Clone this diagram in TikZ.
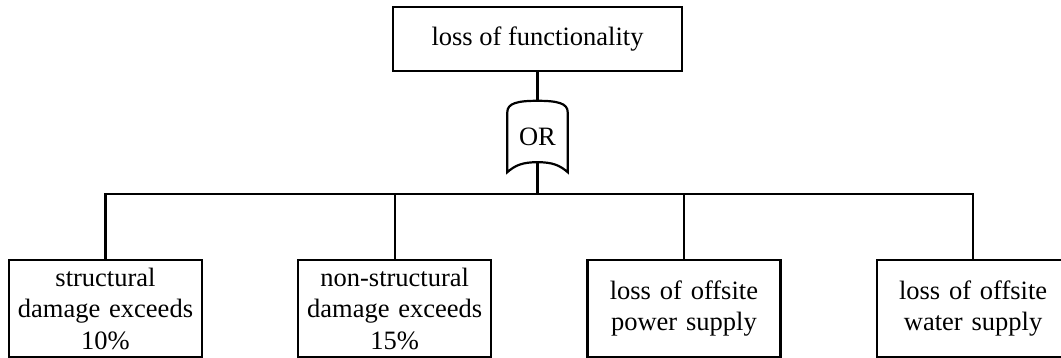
\documentclass[tikz,border=0pt]{standalone}
\usepackage{fontspec}
\setmainfont{Liberation Serif}
\usepackage{tikz}
\usetikzlibrary{positioning, calc}

\begin{document}
\begin{tikzpicture}[
    x=1pt, y=1pt,
    node distance=94pt,
    line/.style={line width=2.2pt, color=black},
    event/.style={draw, line width=2.2pt, rectangle, align=center,
                  font=\fontsize{26.5}{31.5}\selectfont},
    topevent/.style={event, minimum width=289pt, minimum height=64pt},
    basic/.style={event, minimum width=193pt, minimum height=97pt,
                  text width=185pt, inner sep=0pt},
    orgate/.style={minimum width=60pt, minimum height=71pt, inner sep=0pt,
                   font=\fontsize{26.5}{31.5}\selectfont},
  ]
    \clip (0,0) rectangle (1061,358);

    % top event and gate
    \node[topevent] (top) at (537.5,319) {loss of functionality};
    \node[orgate] (gate) at (537.5,221.5) {OR};
    \draw[line] (gate.south west) -- ++(0,60)
      .. controls +(0,9) and +(-20,0) .. (gate.north)
      .. controls +(20,0) and +(0,9) .. ($(gate.south east)+(0,60)$)
      -- (gate.south east)
      .. controls +(-8,7) and +(15,0) .. ($(gate.south)+(0,10)$)
      .. controls +(-15,0) and +(8,7) .. (gate.south west) -- cycle;
    \coordinate (gout) at ($(gate.south)+(0,10)$);

    % basic events
    \node[basic] (struct) at (105.5,49.5)
      {structural\\damage exceeds\\10\%};
    \node[basic, right=of struct] (nonstruct)
      {non-structural\\damage exceeds\\15\%};
    \node[basic, right=of nonstruct] (power)
      {loss of offsite\\power supply};
    \node[basic, right=of power] (water)
      {loss of offsite\\water supply};

    \draw[line] (top) -- (gate.north);
    \foreach \ev in {struct, nonstruct, power, water}
      \draw[line] (gout) -- ++(0,-32) -| (\ev.north);
  \end{tikzpicture}
\end{document}
